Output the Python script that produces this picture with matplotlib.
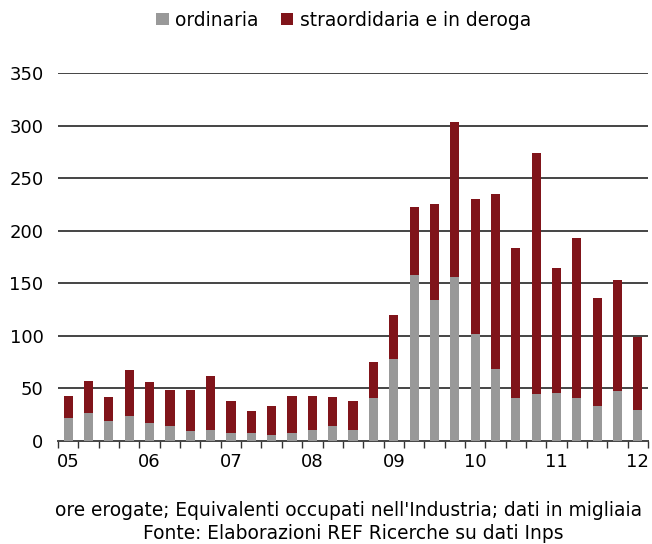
import matplotlib
matplotlib.use("Agg")
import matplotlib.pyplot as plt
import numpy as np

# Quarterly data, 2005 Q1 - 2012 Q1 (thousands of equivalent workers)
quarters = [f"{y}Q{q}" for y in range(2005, 2013) for q in range(1, 5)][:29]
totale = [42.6, 56.8, 41.6, 67.3, 55.9, 48.3, 48.3, 61.6, 37.8, 28.3,
          33.0, 42.6, 42.6, 41.6, 37.8, 74.9, 119.7, 222.6, 225.5, 303.6,
          230.2, 235.0, 183.5, 274.1, 164.5, 193.1, 135.9, 153.1, 98.8]
ordinaria = [21.6, 26.4, 18.7, 23.5, 16.8, 14.0, 9.2, 10.2, 7.3, 7.3,
             5.4, 7.3, 10.2, 14.0, 10.2, 40.6, 77.8, 157.8, 134.0, 155.9,
             101.6, 68.3, 40.6, 44.5, 45.4, 40.6, 33.0, 47.3, 29.2]
straordinaria = [round(t - o, 1) for t, o in zip(totale, ordinaria)]
year_labels = ["05", "06", "07", "08", "09", "10", "11", "12"]
y_ticks = [0, 50, 100, 150, 200, 250, 300, 350]

GRAY = "#999999"
RED = "#80141a"
FS_TICK = 13.0
FS_TEXT = 13.4

plt.rcParams["font.family"] = ["DejaVu Sans"]

fig = plt.figure(figsize=(6.52, 5.44), dpi=100)
ax = fig.add_axes([0.089, 0.1893, 0.905, 0.6765])

x = np.arange(len(quarters))
w = 0.45
ax.bar(x, ordinaria, width=w, color=GRAY, label="ordinaria", zorder=3)
ax.bar(x, straordinaria, width=w, bottom=ordinaria, color=RED,
       label="straordidaria e in deroga", zorder=3)

ax.set_xlim(-0.5, len(quarters) - 0.5)
ax.set_ylim(0, 350)
ax.set_yticks(y_ticks)
ax.set_yticklabels([str(v) for v in y_ticks], fontsize=FS_TICK)
ax.tick_params(axis="y", length=0, pad=10.5)

for v in y_ticks[1:]:
    ax.axhline(v, color="#444444", lw=1.4, zorder=1)

# year labels under the first quarter of each year
ax.set_xticks(x[::4])
ax.set_xticklabels(year_labels, fontsize=FS_TICK)
ax.tick_params(axis="x", length=0, pad=8.5)
ax.set_xticks(np.arange(-0.5, len(quarters), 1.0), minor=True)
ax.tick_params(axis="x", which="minor", length=5, width=1, color="#333333",
               direction="out")

for s in ["top", "right", "left"]:
    ax.spines[s].set_visible(False)
ax.spines["bottom"].set_color("#444444")
ax.spines["bottom"].set_linewidth(1.4)

fig.legend(loc="center", bbox_to_anchor=(0.527, 0.963), ncol=2,
           frameon=False, fontsize=FS_TEXT, handlelength=0.66, handleheight=0.66,
           handletextpad=0.35, columnspacing=1.2, borderpad=0.1)

fig.text(0.535, 0.061, "ore erogate; Equivalenti occupati nell'Industria; dati in migliaia",
         ha="center", va="center", fontsize=FS_TEXT)
fig.text(0.542, 0.020, "Fonte: Elaborazioni REF Ricerche su dati Inps",
         ha="center", va="center", fontsize=FS_TEXT)

fig.savefig("out.png", dpi=100)
